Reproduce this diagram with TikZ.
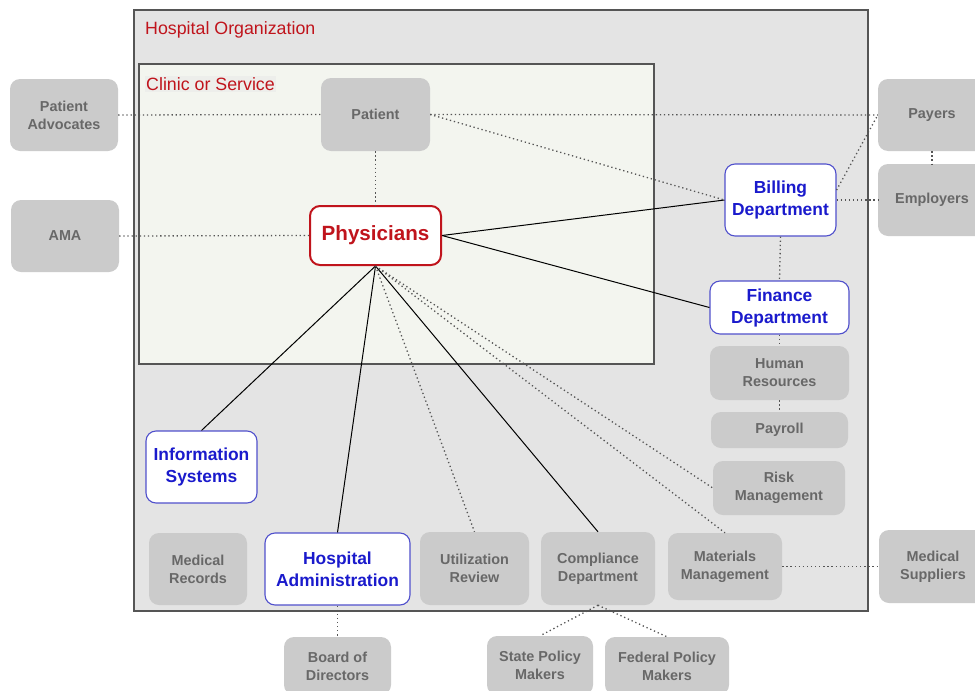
\documentclass[tikz,border=0pt]{standalone}
\usepackage{fontspec}
\setmainfont{Liberation Sans}

\definecolor{orgfill}{HTML}{E4E4E4}
\definecolor{clinicfill}{HTML}{F3F5EF}
\definecolor{framegray}{HTML}{555555}
\definecolor{boxgray}{HTML}{CBCBCB}
\definecolor{txtgray}{HTML}{686868}
\definecolor{orgred}{HTML}{C0141C}
\definecolor{deptblue}{HTML}{1A1ACC}
\definecolor{deptline}{HTML}{5050CC}
\definecolor{linkgray}{HTML}{555555}

\tikzset{
  outside/.style={shape=rectangle, rounded corners=10pt, fill=boxgray, draw=none, text=txtgray,
    inner sep=0pt, align=center, font=\bfseries\fontsize{14.4}{18}\selectfont},
  dept/.style={shape=rectangle, rounded corners=10pt, fill=white, draw=deptline, line width=1.1pt,
    text=deptblue, inner sep=0pt, align=center, font=\bfseries\fontsize{17.4}{22}\selectfont},
  rel/.style={draw=black, line width=1pt},
  link/.style={draw=linkgray, line width=1.3pt, dash pattern=on 1.3pt off 2.8pt}
}

\begin{document}
\begin{tikzpicture}[x=1pt, y=-1pt]
\useasboundingbox (0,0) rectangle (975,691);
%%%%%%%%%%%%%%%%%%%%%%%%%%%%%%%%%%%%%%%%%%% HELP LINES
%\draw[help lines, step=50] (0,0) grid (975,691);

%%%%%%%%%%%%%%%%%%%%%%%%%%%%%%%%%%%%%%%%%%% frames
\draw[fill=orgfill, draw=framegray, line width=1.2pt] (134,10) rectangle (868,611);
\draw[fill=clinicfill, draw=framegray, line width=1.2pt] (139,64) rectangle (654,364);
\node[anchor=west, inner sep=1pt, text=orgred, font=\fontsize{17.8}{20}\selectfont](hosp) at (144,30){Hospital Organization};
\node[anchor=west, inner sep=1pt, fill=orgfill!40!clinicfill, text=orgred, font=\fontsize{17.8}{20}\selectfont](clinic) at (145,84){Clinic or Service};

%%%%% center
\node[shape=rectangle, rounded corners=10pt, fill=white, draw=orgred, line width=2pt, text=orgred,
  minimum width=131pt, minimum height=59pt, font=\bfseries\fontsize{20.6}{24}\selectfont](phys) at (375.5,235.5){Physicians};
\node[outside, minimum width=109pt, minimum height=73pt](patient) at (375.5,114.5){Patient};

%%%%% left side
\node[outside, minimum width=108pt, minimum height=72pt](advoc) at (64,115){Patient\\Advocates};
\node[outside, minimum width=108pt, minimum height=72pt](ama) at (65,236){AMA};

%%%%% right side
\node[dept, minimum width=111pt, minimum height=72pt](bill) at (780.5,200){Billing\\Department};
\node[dept, minimum width=139pt, minimum height=53pt](fin) at (779.5,307.5){Finance\\Department};
\node[outside, minimum width=139pt, minimum height=54pt](hr) at (779.5,373){Human\\Resources};
\node[outside, minimum width=137pt, minimum height=36pt](payroll) at (779.5,430){Payroll};
\node[outside, minimum width=132pt, minimum height=54pt](risk) at (779,488){Risk\\Management};
\node[outside, minimum width=108pt, minimum height=72pt](payers) at (932,115){Payers};
\node[outside, minimum width=108pt, minimum height=72pt](employ) at (932,200){Employers};

%%%%% bottom row
\node[dept, minimum width=111pt, minimum height=72pt](info) at (201.5,467){Information\\Systems};
\node[outside, minimum width=98pt, minimum height=72pt](records) at (198,569){Medical\\Records};
\node[dept, minimum width=145pt, minimum height=72pt](admin) at (337.5,569){Hospital\\Administration};
\node[outside, minimum width=109pt, minimum height=73pt](util) at (474.5,568.5){Utilization\\Review};
\node[outside, minimum width=114pt, minimum height=73pt](compl) at (598,568.5){Compliance\\Department};
\node[outside, minimum width=114pt, minimum height=67pt](mater) at (725,566.5){Materials\\Management};
\node[outside, minimum width=108pt, minimum height=73pt](suppl) at (933,566.5){Medical\\Suppliers};

%%%%% outside the hospital
\node[outside, minimum width=107pt, minimum height=58pt](board) at (337.5,666){Board of\\Directors};
\node[outside, minimum width=106pt, minimum height=59pt](state) at (540,665.5){State Policy\\Makers};
\node[outside, minimum width=124pt, minimum height=58pt](federal) at (667,666){Federal Policy\\Makers};

%%%%%%%%%%%%%%%%%%%%%%%%%%%%%%%%%%%%%%%%%%% connections
\draw[rel] (phys.east) -- (bill.west);
\draw[rel] (phys.east) -- (fin.west);
\draw[rel] (phys.south) -- (info.north);
\draw[rel] (phys.south) -- (admin.north);
\draw[rel] (phys.south) -- (compl.north);

\draw[link] (advoc.east) -- (patient.west);
\draw[link] (ama.east) -- (phys.west);
\draw[link] (patient.south) -- (phys.north);
\draw[link] (patient.east) -- (payers.west);
\draw[link] (patient.east) -- (bill.west);
\draw[link] (bill.10) -- (payers.west);
\draw[link] (bill.east) -- (employ.west);
\draw[link] (payers.south) -- (employ.north);
\draw[link] (bill.south) -- (fin.north);
\draw[link] (fin.south) -- (hr.north);
\draw[link] (hr.south) -- (payroll.north);
\draw[link] (phys.south) -- (util.north);
\draw[link] (phys.south) -- (mater.north);
\draw[link] (phys.south) -- (risk.west);
\draw[link] (mater.east) -- (suppl.west);
\draw[link] (admin.south) -- (board.north);
\draw[link] (compl.south) -- (state.north);
\draw[link] (compl.south) -- (federal.north);
\end{tikzpicture}
\end{document}
